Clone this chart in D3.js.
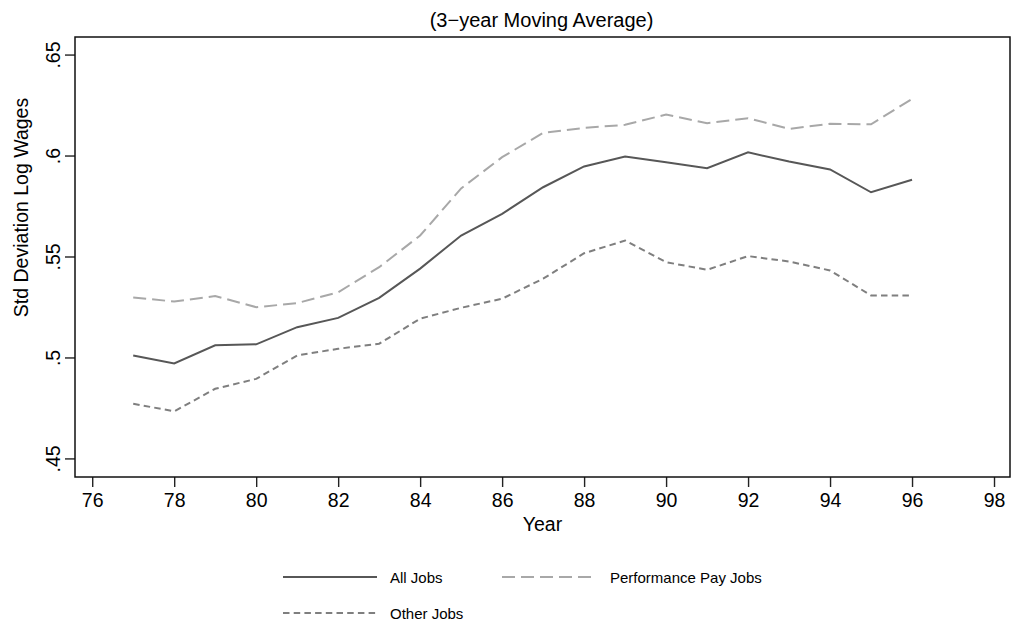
<!DOCTYPE html>
<html lang="en">
<head>
<meta charset="utf-8">
<title>Std Deviation Log Wages - 3-year Moving Average</title>
<style>
  body { margin: 0; background: #fff; }
  svg { display: block; font-family: "Liberation Sans", Arial, sans-serif; }
  .tick text { fill: #000; }
</style>
</head>
<body>
<div id="chart"></div>
<script src="https://d3js.org/d3.v7.min.js"></script>
<script>
  // data
  var years = [77, 78, 79, 80, 81, 82, 83, 84, 85, 86, 87, 88, 89, 90, 91, 92, 93, 94, 95, 96];
  var allJobs = [0.501, 0.497, 0.506, 0.5065, 0.515, 0.5196, 0.5295, 0.544, 0.5604, 0.5711, 0.5843, 0.5946,
                 0.5995, 0.5967, 0.5937, 0.6016, 0.597, 0.5931, 0.5818, 0.588];
  var perfJobs = [0.5297, 0.5277, 0.5304, 0.5249, 0.5269, 0.5323, 0.5447, 0.5604, 0.5837, 0.5992, 0.6112, 0.6137,
                  0.6152, 0.6203, 0.616, 0.6185, 0.6132, 0.6157, 0.6155, 0.628];
  var otherJobs = [0.4771, 0.4733, 0.4845, 0.4894, 0.501, 0.5043, 0.5068, 0.5192, 0.5246, 0.5291, 0.539, 0.5516,
                   0.5579, 0.5472, 0.5434, 0.5502, 0.5475, 0.5431, 0.5307, 0.5307];
  var xTicks = [76, 78, 80, 82, 84, 86, 88, 90, 92, 94, 96, 98];
  var yTicks = [0.45, 0.5, 0.55, 0.6, 0.65];
  var yTickLabels = [".45", ".5", ".55", ".6", ".65"];

  var series = [
    { name: "All Jobs", values: allJobs, color: "#575757", dash: null },
    { name: "Performance Pay Jobs", values: perfJobs, color: "#a8a8a8", dash: "13,6" },
    { name: "Other Jobs", values: otherJobs, color: "#7f7f7f", dash: "6.5,4.2" }
  ];

  var W = 1011, H = 629;
  var plotL = 75, plotR = 1010, plotT = 37, plotB = 477;

  var svg = d3.select("#chart").append("svg")
    .attr("width", W)
    .attr("height", H);

  var x = d3.scaleLinear().domain([75.58, 98.39]).range([plotL, plotR]);
  var y = d3.scaleLinear().domain([0.4408, 0.6587]).range([plotB, plotT]);

  // title
  svg.append("text")
    .attr("x", 541.5)
    .attr("y", 27)
    .attr("text-anchor", "middle")
    .attr("font-size", "20px")
    .text("(3\u2212year Moving Average)");

  // x axis
  var xAxis = svg.append("g")
    .attr("transform", "translate(0," + plotB + ")")
    .call(d3.axisBottom(x).tickValues(xTicks).tickSize(10).tickPadding(6).tickFormat(d3.format("d")));
  xAxis.select(".domain").remove();
  xAxis.selectAll(".tick line").attr("stroke", "#222").attr("stroke-width", 1.4);
  xAxis.selectAll(".tick text").attr("font-size", "19.5px").attr("font-family", "Liberation Sans, Arial, sans-serif");

  // y axis
  var yAxis = svg.append("g")
    .attr("transform", "translate(" + plotL + ",0)")
    .call(d3.axisLeft(y).tickValues(yTicks).tickSize(10)
      .tickFormat(function(d, i) { return yTickLabels[i]; }));
  yAxis.select(".domain").remove();
  yAxis.selectAll(".tick line").attr("stroke", "#222").attr("stroke-width", 1.4);
  yAxis.selectAll(".tick text")
    .attr("font-size", "19.5px")
    .attr("font-family", "Liberation Sans, Arial, sans-serif")
    .attr("transform", "rotate(-90)")
    .attr("x", 0)
    .attr("y", -15)
    .attr("dy", 0)
    .attr("text-anchor", "middle");

  // frame
  svg.append("rect")
    .attr("x", plotL)
    .attr("y", plotT)
    .attr("width", plotR - plotL)
    .attr("height", plotB - plotT)
    .attr("fill", "none")
    .attr("stroke", "#111")
    .attr("stroke-width", 1.5);

  // axis titles
  svg.append("text")
    .attr("x", 542.5)
    .attr("y", 531)
    .attr("text-anchor", "middle")
    .attr("font-size", "19.5px")
    .text("Year");

  svg.append("text")
    .attr("transform", "translate(28,207.5) rotate(-90)")
    .attr("text-anchor", "middle")
    .attr("font-size", "19.5px")
    .text("Std Deviation Log Wages");

  // lines
  var line = d3.line()
    .x(function(d) { return x(d[0]); })
    .y(function(d) { return y(d[1]); });

  svg.selectAll(".series")
    .data(series)
    .enter()
    .append("path")
    .attr("class", "series")
    .attr("fill", "none")
    .attr("stroke", function(d) { return d.color; })
    .attr("stroke-width", 2)
    .attr("stroke-dasharray", function(d) { return d.dash; })
    .attr("d", function(d) { return line(years.map(function(yr, i) { return [yr, d.values[i]]; })); });

  // legend
  var legendPos = [
    { x: 283, y: 577, tx: 390 },
    { x: 502, y: 577, tx: 610 },
    { x: 283, y: 613, tx: 390 }
  ];
  var legend = svg.selectAll(".legend")
    .data(series)
    .enter()
    .append("g")
    .attr("class", "legend")
    .attr("transform", function(d, i) { return "translate(" + legendPos[i].x + "," + legendPos[i].y + ")"; });

  legend.append("line")
    .attr("x1", 0)
    .attr("x2", function(d, i) { return i == 1 ? 92 : 94; })
    .attr("y1", 0)
    .attr("y2", 0)
    .attr("stroke", function(d) { return d.color; })
    .attr("stroke-width", 2)
    .attr("stroke-dasharray", function(d) { return d.dash; });

  legend.append("text")
    .attr("x", function(d, i) { return legendPos[i].tx - legendPos[i].x; })
    .attr("y", 5.5)
    .attr("font-size", "15px")
    .text(function(d) { return d.name; });
</script>
</body>
</html>
